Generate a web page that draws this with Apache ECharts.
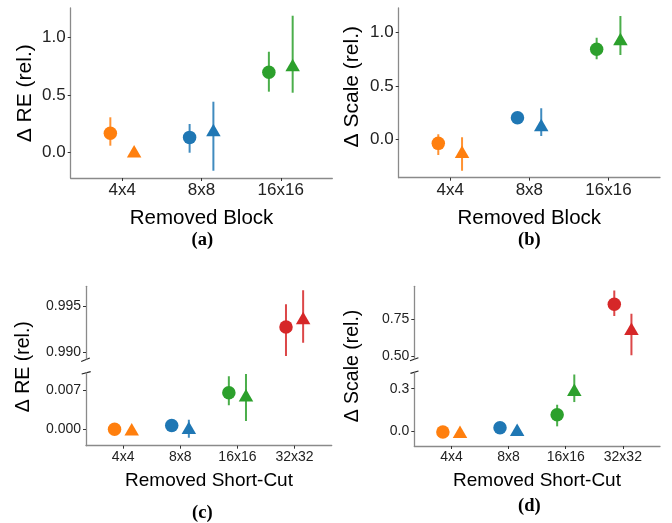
<!DOCTYPE html>
<html>
<head>
<meta charset="utf-8">
<script src="https://cdn.jsdelivr.net/npm/echarts@6/dist/echarts.min.js"></script>
<style>html,body{margin:0;padding:0;background:#fff;}#c{width:672px;height:523px;}</style>
</head>
<body>
<div id="c"></div>
<script>
// ---------- data ----------
const catsBlock = ['4x4', '8x8', '16x16'];
const catsShortCut = ['4x4', '8x8', '16x16', '32x32'];
const catColors = ['#ff7f0e', '#1f77b4', '#2ca02c', '#d62728'];

// (a) Δ RE, Removed Block
const aCircle   = [0.168, 0.133, 0.697];
const aCircleLo = [0.061, 0.000, 0.529];
const aCircleHi = [0.307, 0.249, 0.875];
const aTri      = [0.012, 0.197, 0.760];
const aTriLo    = [0.005, -0.156, 0.520];
const aTriHi    = [0.020, 0.442, 1.187];

// (b) Δ Scale, Removed Block
const bCircle   = [-0.038, 0.203, 0.844];
const bCircleLo = [-0.147, 0.175, 0.750];
const bCircleHi = [0.047, 0.230, 0.953];
const bTri      = [-0.116, 0.134, 0.940];
const bTriLo    = [-0.294, 0.031, 0.790];
const bTriHi    = [0.019, 0.290, 1.156];

// (c) Δ RE, Removed Short-Cut
const cCircle   = [0.0000, 0.0007, 0.00657, 0.99274];
const cCircleLo = [-0.0002, 0.0004, 0.0043, 0.98956];
const cCircleHi = [0.0002, 0.0010, 0.0095, 0.99522];
const cTri      = [0.0000, 0.0003, 0.0061, 0.99372];
const cTriLo    = [-0.0002, -0.0015, 0.0015, 0.99102];
const cTriHi    = [0.0002, 0.0017, 0.0099, 0.99675];

// (d) Δ Scale, Removed Short-Cut
const dCircle   = [-0.005, 0.025, 0.117, 0.852];
const dCircleLo = [-0.010, 0.015, 0.035, 0.772];
const dCircleHi = [0.000, 0.035, 0.187, 0.947];
const dTri      = [-0.004, 0.011, 0.293, 0.686];
const dTriLo    = [-0.010, 0.002, 0.206, 0.505];
const dTriHi    = [0.002, 0.020, 0.400, 0.788];

// tick labels
const aTicks = [0, 0.5, 1.0];
const bTicks = [0, 0.5, 1.0];
const cTicksUpper = [0.990, 0.995];
const cTicksLower = [0.000, 0.007];
const dTicksUpper = [0.50, 0.75];
const dTicksLower = [0.0, 0.3];

// ---------- layout ----------
const FONT = "'Liberation Sans', Arial, sans-serif";
const DODGE = 0.15;
const grids = [
  {left: 70.7, top: 8, width: 261.6, height: 170},        // a
  {left: 398.7, top: 8, width: 261.3, height: 169.7},     // b
  {left: 86, top: 286.3, width: 245.7, height: 72.7},     // c upper
  {left: 86, top: 373, width: 245.7, height: 72.7},       // c lower
  {left: 414.3, top: 286.3, width: 245.7, height: 72.7},  // d upper
  {left: 414.3, top: 373, width: 245.7, height: 73}       // d lower
];

const axisLineStyle = {color: '#8a8a8a', width: 1.3};
function xAxisDef(gi, cats, show, fs) {
  const ticks = cats.map((c, i) => i + 1);
  return {
    type: 'value', gridIndex: gi, show: show,
    min: 1 - 0.65, max: cats.length + 0.65,
    splitLine: {show: false},
    axisLine: {show: true, onZero: false, lineStyle: axisLineStyle},
    axisTick: {show: true, length: 3, customValues: ticks, lineStyle: {color: '#333', width: 1}},
    axisLabel: {show: true, customValues: ticks, margin: 4, fontSize: fs, fontFamily: FONT, color: '#222',
      formatter: v => cats[Math.round(v) - 1] || ''}
  };
}
function yAxisDef(gi, min, max, ticks, dec, fs) {
  return {
    type: 'value', gridIndex: gi, min: min, max: max,
    splitLine: {show: false},
    axisLine: {show: true, onZero: false, lineStyle: axisLineStyle},
    axisTick: {show: true, length: 3, customValues: ticks, lineStyle: {color: '#333', width: 1}},
    axisLabel: {show: true, customValues: ticks, margin: 5, fontSize: fs, fontFamily: FONT, color: '#222',
      formatter: v => v.toFixed(dec)}
  };
}

const xAxes = [
  xAxisDef(0, catsBlock, true, 17),
  xAxisDef(1, catsBlock, true, 17),
  xAxisDef(2, catsShortCut, false, 14),
  xAxisDef(3, catsShortCut, true, 14),
  xAxisDef(4, catsShortCut, false, 14),
  xAxisDef(5, catsShortCut, true, 14)
];
const yAxes = [
  yAxisDef(0, -0.219, 1.254, aTicks, 1, 17),
  yAxisDef(1, -0.360, 1.231, bTicks, 1, 17),
  yAxisDef(2, 0.98923, 0.99719, cTicksUpper, 3, 14),
  yAxisDef(3, -0.00294, 0.0101, cTicksLower, 3, 14),
  yAxisDef(4, 0.4796, 0.975, dTicksUpper, 2, 14),
  yAxisDef(5, -0.1035, 0.4106, dTicksLower, 1, 14)
];

const series = [];
function errSeries(axisIdx, rows) {
  series.push({
    type: 'custom', xAxisIndex: axisIdx, yAxisIndex: axisIdx, clip: true, z: 2,
    data: rows,
    encode: {x: 0, y: [1, 2]},
    renderItem: function (params, api) {
      const x = api.value(0), lo = api.value(1), hi = api.value(2), ci = api.value(3);
      const p1 = api.coord([x, lo]), p2 = api.coord([x, hi]);
      return {type: 'line', shape: {x1: p1[0], y1: p1[1], x2: p2[0], y2: p2[1]},
        style: {stroke: catColors[ci], lineWidth: 2, opacity: 0.85}};
    }
  });
}
function ptSeries(axisIdx, rows, symbol, size) {
  series.push({
    type: 'scatter', xAxisIndex: axisIdx, yAxisIndex: axisIdx, z: 3,
    symbol: symbol, symbolSize: size, clip: true,
    data: rows.map(r => ({value: [r[0], r[1]], itemStyle: {color: catColors[r[2]], opacity: 1}})),
    emphasis: {disabled: true}, silent: true
  });
}
// build a panel; split between upper/lower axes by threshold
function panel(vals, los, his, offset, symbol, size, axisLower, axisUpper, threshold) {
  const lower = {err: [], pt: []}, upper = {err: [], pt: []};
  vals.forEach((v, i) => {
    const x = i + 1 + offset;
    const target = (axisUpper != null && v > threshold) ? upper : lower;
    target.err.push([x, los[i], his[i], i]);
    target.pt.push([x, v, i]);
  });
  errSeries(axisLower, lower.err);
  ptSeries(axisLower, lower.pt, symbol, size);
  if (axisUpper != null) {
    errSeries(axisUpper, upper.err);
    ptSeries(axisUpper, upper.pt, symbol, size);
  }
}
const CIRC = 13.5, TRI = [14.5, 12.5];
panel(aCircle, aCircleLo, aCircleHi, -DODGE, 'circle', CIRC, 0, null, 0);
panel(aTri, aTriLo, aTriHi, DODGE, 'triangle', TRI, 0, null, 0);
panel(bCircle, bCircleLo, bCircleHi, -DODGE, 'circle', CIRC, 1, null, 0);
panel(bTri, bTriLo, bTriHi, DODGE, 'triangle', TRI, 1, null, 0);
panel(cCircle, cCircleLo, cCircleHi, -DODGE, 'circle', CIRC, 3, 2, 0.5);
panel(cTri, cTriLo, cTriHi, DODGE, 'triangle', TRI, 3, 2, 0.5);
panel(dCircle, dCircleLo, dCircleHi, -DODGE, 'circle', CIRC, 5, 4, 0.45);
panel(dTri, dTriLo, dTriHi, DODGE, 'triangle', TRI, 5, 4, 0.45);

function txt(x, y, s, fs, rot, extra) {
  return Object.assign({
    type: 'text', x: x, y: y, rotation: rot || 0,
    style: {text: s, fontSize: fs, fontFamily: FONT, fill: '#000', align: 'center', verticalAlign: 'middle'}
  }, extra || {});
}
const R = Math.PI / 2;
const serif = "'Liberation Serif', 'Times New Roman', serif";
function lbl(x, y, s) {
  return {type: 'text', x: x, y: y,
    style: {text: s, fontSize: 18.5, fontWeight: 'bold', fontFamily: serif, fill: '#000', align: 'center', verticalAlign: 'middle'}};
}
function slash(cx, cy, dx, dy) {
  return {type: 'line', shape: {x1: cx - dx, y1: cy + dy, x2: cx + dx, y2: cy - dy},
    style: {stroke: '#222', lineWidth: 1.1}};
}
const graphic = [
  txt(201.5, 218.3, 'Removed Block', 20.5),
  txt(529.3, 218.3, 'Removed Block', 20.5),
  txt(209, 481, 'Removed Short-Cut', 19),
  txt(537, 481, 'Removed Short-Cut', 19),
  txt(25, 93.3, 'Δ RE (rel.)', 21, R),
  txt(352.7, 86.7, 'Δ Scale (rel.)', 21, R),
  txt(24, 366.7, 'Δ RE (rel.)', 19.5, R),
  txt(352.7, 366, 'Δ Scale (rel.)', 19.5, R),
  lbl(202.3, 240, '(a)'),
  lbl(529.3, 240, '(b)'),
  lbl(202.3, 513.5, '(c)'),
  lbl(529.3, 506, '(d)'),
  slash(85.5, 359.8, 4.3, 1.7),
  slash(86.2, 372.8, 4.5, 1.2),
  slash(414.2, 359.3, 4.2, 1.5),
  slash(414.5, 372.2, 4, 1.2)
];

const chart = echarts.init(document.getElementById('c'), null, {renderer: 'canvas'});
chart.setOption({
  animation: false,
  backgroundColor: '#fff',
  grid: grids,
  xAxis: xAxes,
  yAxis: yAxes,
  series: series,
  graphic: graphic
});
</script>
</body>
</html>
